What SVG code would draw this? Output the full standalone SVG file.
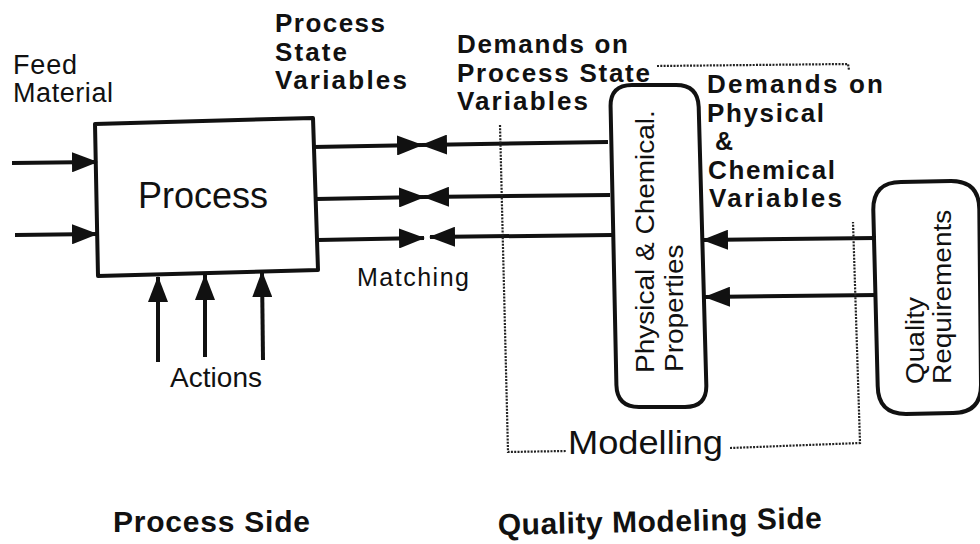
<svg xmlns="http://www.w3.org/2000/svg" width="980" height="544" viewBox="0 0 980 544">
<style>
.t{font-family:"Liberation Sans",Arial,Helvetica,sans-serif;fill:#111}
.b{font-weight:bold}
.box{fill:#fff;stroke:#111;stroke-width:4;stroke-linejoin:round}
.c{fill:none;stroke:#111;stroke-width:4;marker-end:url(#ah)}
.d{fill:none;stroke:#222;stroke-width:2.2;stroke-dasharray:2 1.3}
</style>
<defs>
<marker id="ah" markerUnits="userSpaceOnUse" markerWidth="26" markerHeight="20" refX="25" refY="10" orient="auto">
<path d="M0,0 L26,10 L0,20 Z" fill="#111"/>
</marker>
</defs>
<rect width="980" height="544" fill="#fff"/>

<g id="process">
<path class="box" d="M95,124 L313,118 L318,270 L98,276 Z"/>
<text class="t" x="138" y="208" font-size="36">Process</text>
</g>

<g id="phys-chem">
<path class="box" d="M632,85 L676,85 Q698,85 698.7,107 L706.3,385 Q707,407 685,407 L639,407 Q617,407 616.4,385 L610.6,107 Q610,85 632,85 Z"/>
<text class="t" font-size="28" transform="translate(654,373) rotate(-90) scale(1,0.9)">Physical &amp; Chemical.</text>
<text class="t" font-size="28" transform="translate(683,372) rotate(-90) scale(1,0.9)">Properties</text>
</g>

<g id="quality">
<path class="box" d="M901,182 L951,181 Q979,181 979.3,209 L981,385 Q981,413 953,413 L906,414 Q878,414 877.7,386 L873.3,210 Q873,182 901,182 Z"/>
<text class="t" font-size="28" transform="translate(924,384) rotate(-90) scale(1,0.9)">Quality</text>
<text class="t" font-size="28" transform="translate(951,384) rotate(-90) scale(1,0.9)">Requirements</text>
</g>

<g id="connectors">
<path class="c" d="M12,163 L97,162"/>
<path class="c" d="M15,235 L97,234"/>
<path class="c" d="M158,362 L158,277"/>
<path class="c" d="M205,357 L205,275"/>
<path class="c" d="M263,360 L262,272"/>
<path class="c" d="M313,147 L422,145"/>
<path class="c" d="M608,142 L422,145"/>
<path class="c" d="M316,199 L424,197"/>
<path class="c" d="M610,195 L424,197"/>
<path class="c" d="M318,240 L424,238"/>
<path class="c" d="M612,235 L430,237"/>
<path class="c" d="M876,238 L703,240"/>
<path class="c" d="M877,295 L705,297"/>
</g>

<g id="modelling">
<path class="d" d="M500,125 L508,452 L566,451"/>
<path class="d" d="M730,448 L860,443 L853,222"/>
<path class="d" d="M657,66 L848,64 L849,70"/>
<text class="t" x="568" y="454" font-size="33" textLength="155" lengthAdjust="spacingAndGlyphs">Modelling</text>
</g>

<g id="labels">
<text class="t" x="13" y="74" font-size="27" textLength="64">Feed</text>
<text class="t" x="13" y="102" font-size="27" textLength="100">Material</text>
<text class="t b" x="275" y="32" font-size="26" textLength="110">Process</text>
<text class="t b" x="275" y="61" font-size="26" textLength="72">State</text>
<text class="t b" x="275" y="89" font-size="26" textLength="132">Variables</text>
<text class="t b" x="457" y="53" font-size="26" textLength="171">Demands on</text>
<text class="t b" x="457" y="82" font-size="26" textLength="193">Process State</text>
<text class="t b" x="457" y="110" font-size="26" textLength="131">Variables</text>
<text class="t b" x="707" y="93" font-size="26" textLength="176">Demands on</text>
<text class="t b" x="707" y="122" font-size="26" textLength="117">Physical</text>
<text class="t b" x="715" y="150" font-size="25">&amp;</text>
<text class="t b" x="708" y="179" font-size="26" textLength="127">Chemical</text>
<text class="t b" x="709" y="207" font-size="26" textLength="133">Variables</text>
<text class="t" x="357" y="286" font-size="25" textLength="112">Matching</text>
<text class="t" x="170" y="387" font-size="28" textLength="92">Actions</text>
<text class="t b" x="113" y="532" font-size="30" textLength="197">Process Side</text>
<text class="t b" font-size="30" textLength="324" transform="translate(498,535) rotate(-1.2)">Quality Modeling Side</text>
</g>
</svg>
